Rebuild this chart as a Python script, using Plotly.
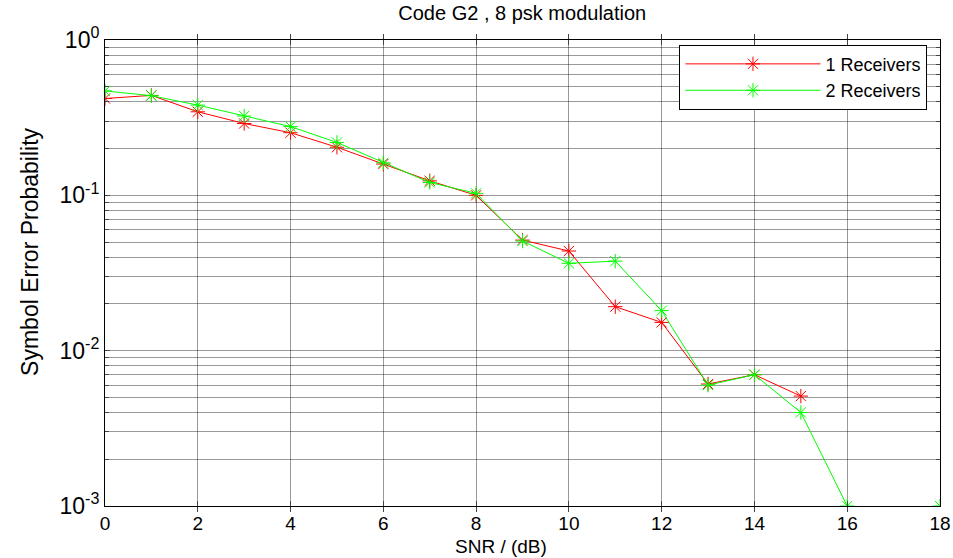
import plotly.graph_objects as go

# SNR sweep (dB) and measured symbol error probabilities
snr_db = list(range(0, 19))
ser_1rx = [0.42, 0.44, 0.345, 0.29, 0.253, 0.204, 0.159, 0.124, 0.10, 0.0515,
           0.0438, 0.0192, 0.0152, 0.0061, 0.0070, 0.0051, None, None, None]
ser_2rx = [0.47, 0.438, 0.381, 0.324, 0.277, 0.219, 0.162, 0.121, 0.103, 0.0508,
           0.0365, 0.0377, 0.0181, 0.0060, 0.0070, 0.0040, 0.001, None, 0.001]

x_ticks = [0, 2, 4, 6, 8, 10, 12, 14, 16, 18]
y_decades = [1e-3, 1e-2, 1e-1, 1e0]
y_decade_text = ["10<sup>-3</sup>", "10<sup>-2</sup>", "10<sup>-1</sup>", "10<sup>0</sup>"]

# minor grid positions 2..9 x 10^k inside each decade
y_minor = [m * 10.0 ** k for k in (-3, -2, -1) for m in range(2, 10)]

fig = go.Figure()
fig.add_trace(go.Scatter(
    x=snr_db, y=ser_1rx, mode="lines+markers", name="1 Receivers",
    line=dict(color="#ff0000", width=1),
    marker=dict(symbol="asterisk-open", size=12, line=dict(color="#ff0000", width=1)),
    connectgaps=False,
))
fig.add_trace(go.Scatter(
    x=snr_db, y=ser_2rx, mode="lines+markers", name="2 Receivers",
    line=dict(color="#00ff00", width=1),
    marker=dict(symbol="asterisk-open", size=12, line=dict(color="#00ff00", width=1)),
    connectgaps=False,
))

grid_col = "rgba(0,0,0,0.4)"
fig.update_layout(
    width=953, height=558,
    paper_bgcolor="white", plot_bgcolor="white",
    margin=dict(l=105, r=13, t=40, b=52),
    font=dict(family="Liberation Sans, Arial, sans-serif", color="black"),
    title=dict(text="Code G2 , 8 psk modulation", x=0.548, xanchor="center",
               y=0.99, yanchor="top", font=dict(size=20)),
    showlegend=True,
    legend=dict(x=0.985, xanchor="right", y=0.99, yanchor="top",
                bordercolor="black", borderwidth=1, bgcolor="white",
                font=dict(size=18), itemwidth=135, tracegroupgap=0),
    # second and third log axes carry only the minor grid lines / ticks
    yaxis2=dict(type="log", range=[-3, 0], overlaying="y", side="left",
                tickvals=y_minor, showticklabels=False, ticks="inside", ticklen=4,
                showgrid=True, gridcolor=grid_col, gridwidth=1, zeroline=False,
                showline=False, automargin=False),
    yaxis3=dict(type="log", range=[-3, 0], overlaying="y", side="right",
                tickvals=y_minor, showticklabels=False, ticks="inside", ticklen=4,
                showgrid=False, zeroline=False, showline=False, automargin=False),
    annotations=[
        dict(text="Symbol Error Probability", textangle=-90,
             xref="paper", yref="paper", x=-0.09, y=0.545,
             xanchor="center", yanchor="middle", showarrow=False,
             font=dict(size=23, family="Liberation Sans Narrow, Arial Narrow, sans-serif")),
        dict(text="SNR / (dB)", xref="paper", yref="paper", x=0.474, y=-0.086,
             xanchor="center", yanchor="middle", showarrow=False,
             font=dict(size=19)),
    ],
)
fig.update_xaxes(
    range=[0, 18], tickvals=x_ticks, ticks="inside", ticklen=5,
    showline=True, linecolor="black", linewidth=1, mirror="allticks",
    showgrid=True, gridcolor=grid_col, gridwidth=1, zeroline=False,
    tickfont=dict(size=19), automargin=False,
)
fig.update_layout(yaxis=dict(
    type="log", range=[-3, 0], tickvals=y_decades, ticktext=y_decade_text,
    ticks="inside", ticklen=5,
    showline=True, linecolor="black", linewidth=1, mirror="allticks",
    showgrid=True, gridcolor=grid_col, gridwidth=1, zeroline=False,
    tickfont=dict(size=23), automargin=False,
))
# empty traces so the minor-grid axes are drawn
fig.add_trace(go.Scatter(x=[None], y=[None], yaxis="y2", showlegend=False, hoverinfo="skip"))
fig.add_trace(go.Scatter(x=[None], y=[None], yaxis="y3", showlegend=False, hoverinfo="skip"))

fig.write_html("out.html")
